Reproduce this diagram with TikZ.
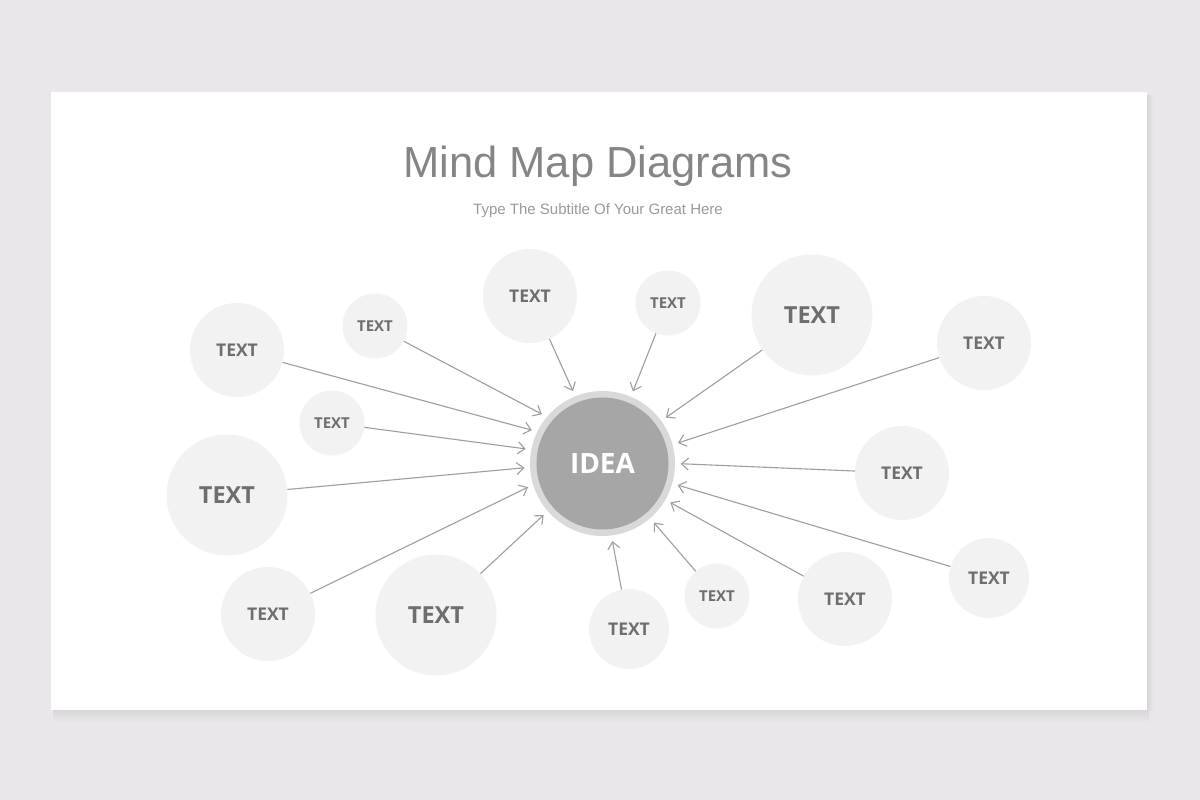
\documentclass[tikz,border=0pt]{standalone}
\usepackage{fontspec}
\setmainfont{Open Sans}
\newfontfamily\titlefont{Liberation Sans}
\usetikzlibrary{arrows.meta}
\definecolor{bg}{HTML}{E9E7E9}
\definecolor{shadowgray}{HTML}{D8D6D8}
\definecolor{bubblefill}{HTML}{F2F2F2}
\definecolor{textgray}{HTML}{6E6E6E}
\definecolor{titlegray}{HTML}{858585}
\definecolor{subgray}{HTML}{9A9A9A}
\definecolor{ringgray}{HTML}{D9D9D9}
\definecolor{ideagray}{HTML}{A6A6A6}
\definecolor{linegray}{HTML}{9E9E9E}
\begin{document}
\begin{tikzpicture}[x=1pt,y=-1pt,
  bubble/.style={circle,fill=bubblefill,inner sep=0pt,text=textgray},
  bigb/.style={bubble,minimum size=121pt,font=\bfseries\fontsize{23.5}{28}\selectfont},
  medb/.style={bubble,minimum size=94pt,font=\bfseries\fontsize{17.5}{21}\selectfont},
  midb/.style={bubble,minimum size=80pt,font=\bfseries\fontsize{17.5}{21}\selectfont},
  smallb/.style={bubble,minimum size=65pt,font=\bfseries\fontsize{15}{18}\selectfont},
  arr/.style={draw=linegray,line width=1.1pt,-{Straight Barb[length=7pt,width=12pt]},shorten >=5.5pt}]
\useasboundingbox (0,0) rectangle (1200,800);
\fill[bg] (0,0) rectangle (1200,800);
% slide shadow
\shade[top color=shadowgray,bottom color=bg] (53,710) rectangle (1149,722);
\shade[left color=shadowgray,right color=bg] (1147,96) rectangle (1153,710);
\fill[white] (51,92) rectangle (1147,710);
\node[font=\titlefont\fontsize{43.5}{50}\selectfont,text=titlegray,anchor=base] (title) at (598,177) {Mind Map Diagrams};
\node[font=\titlefont\fontsize{15}{18}\selectfont,text=subgray,anchor=base] (subtitle) at (598,214) {Type The Subtitle Of Your Great Here};
% idea
\node[circle,fill=ringgray,minimum size=145pt,inner sep=0pt] (idea) at (602.5,463.5) {};
\node[circle,fill=ideagray,minimum size=132pt,inner sep=0pt,text=white,font=\bfseries\fontsize{28}{32}\selectfont] (ideain) at (602.5,463.5) {IDEA};
% bubbles
\node[medb] (c1) at (237,350) {TEXT};
\node[smallb] (c2) at (375,326) {TEXT};
\node[medb] (c3) at (530,296) {TEXT};
\node[smallb] (c4) at (668,303) {TEXT};
\node[bigb] (c5) at (812,315) {TEXT};
\node[medb] (c6) at (984,343) {TEXT};
\node[smallb] (c7) at (332,423) {TEXT};
\node[bigb] (c8) at (227,495) {TEXT};
\node[medb] (c9) at (902,473) {TEXT};
\node[medb] (c10) at (268,614) {TEXT};
\node[bigb] (c11) at (436,615) {TEXT};
\node[midb] (c12) at (629,629) {TEXT};
\node[smallb] (c13) at (717,596) {TEXT};
\node[medb] (c14) at (845,599) {TEXT};
\node[midb] (c15) at (989,578) {TEXT};
% connectors
\draw[arr] (c1) -- (idea.154.3);
\draw[arr] (c2) -- (idea.140.2);
\draw[arr] (c3) -- (idea.112.5);
\draw[arr] (c4) -- (idea.67.2);
\draw[arr] (c5) -- (idea.36.2);
\draw[arr] (c6) -- (idea.15.2);
\draw[arr] (c7) -- (idea.169.9);
\draw[arr] (c8) -- (idea.183.4);
\draw[arr] (c9) -- (idea.-0.4);
\draw[arr] (c10) -- (idea.197.3);
\draw[arr] (c11) -- (idea.221.8);
\draw[arr] (c12) -- (idea.-83);
\draw[arr] (c13) -- (idea.-49.7);
\draw[arr] (c14) -- (idea.-30.3);
\draw[arr] (c15) -- (idea.-16.1);
\end{tikzpicture}
\end{document}
